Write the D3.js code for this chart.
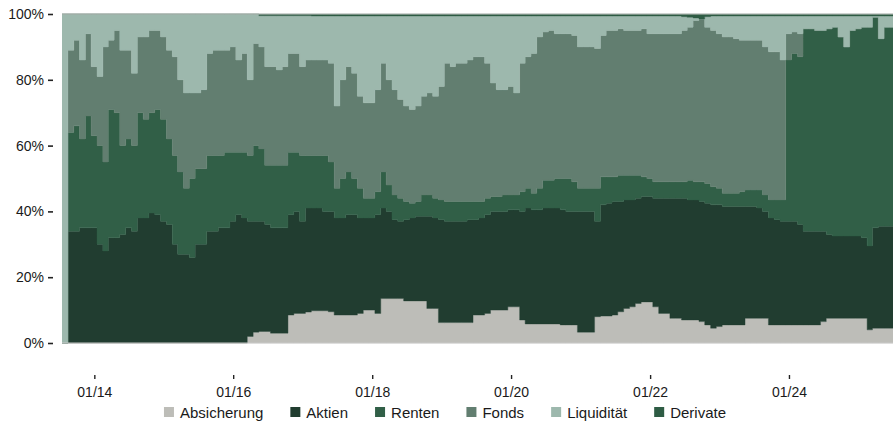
<!DOCTYPE html>
<html>
<head>
<meta charset="utf-8">
<script src="https://cdn.jsdelivr.net/npm/d3@7/dist/d3.min.js"></script>
<style>
  body { margin: 0; background: #fff; }
  svg { display: block; font-family: "Liberation Sans", Arial, Helvetica, sans-serif; }
</style>
</head>
<body>
<script>
// monthly portfolio shares in %, first value = 2013-07
var categories = ["Absicherung", "Aktien", "Renten", "Fonds", "Liquidität", "Derivate"];
var firstMonth = "2013-07-15";

var absicherung = [0,0,0,0,0,0,0,0,0,0, 0,0,0,0,0,0,0,0,0,0, 0,0,0,0,0,0,0,0,0,0,
  0,0,2,3.3,3.5,3.5,3,3,3,8.5, 9,9,9.4,9.8,9.8,9.8,9.5,8.5,8.5,8.5, 8.5,9,10,10,9,13.5,13.5,13.5,13.5,12.8,
  12.8,12.8,12.8,10.5,10.5,6.2,6.2,6.2,6.2,6.2, 6.2,8.5,8.5,9,10,10,10,11,11,7, 5.8,5.8,5.8,5.8,5.8,5.8,5.5,5.5,5.5,3.3,
  3.3,3.3,8,8.2,8.2,8.5,9.5,10.5,11,12, 12.5,12.5,11,9,9,7.5,7.5,7,7,7, 6.5,5.5,4.5,5,5.5,5.5,5.5,5.5,7.5,7.5,
  7.5,7.5,5.5,5.5,5.5,5.5,5.5,5.5,5.5,5.5, 5.5,6.5,7.5,7.5,7.5,7.5,7.5,7.5,7.5,4, 4.5,4.5,4.5,4.5];
var aktien = [0,34,34,35,35,35,30,28,32,32, 33,35,34,38,38,39.5,39,37,36,30, 27,27,26,30,30,34,34,35,35,37,
  39,38,35,33.7,33.5,32.5,32,32,32,30.5, 31,28,31.6,31.2,31.2,30.2,30.5,29.5,29.5,30.5, 30.5,29,28,28,30,27.5,26.5,24,23.5,24.7,
  25.2,25.7,25.7,28,27.5,31.3,30.8,30.8,30.8,30.8, 31.3,29,29.5,30,30,30,30,29.5,29.5,33, 35.2,34.7,34.7,35.2,35.2,35.2,35,34.5,34.5,36.7,
  36.7,36.7,29,33.8,34.3,34.5,33.5,33,32.5,32, 32,32,33,35,35,36.5,36.5,37,36.5,36.5, 36.5,37,37.5,37,36,36,36,36,34,34,
  33.5,32.5,32.5,32,31.5,31.5,31.5,30.5,28.5,28.5, 28.5,27.5,25.5,25,25,25,25,25,24.5,25.5, 30.5,31,31,31];
var renten = [0,30,32,27,34,28,30,27,39,38, 27,27,26,32,30,30.5,32,31,26,27, 25,20,24,23,23,23,23,22,23,21,
  19,20,20,23,22,18,19,19,19,19, 18,20,16,16,16,17,15,9,12,13, 11,9,6,6,7,11,8,7.5,7,5.5,
  4.5,4.5,6.5,6.5,6,6,6,6,6,6, 5.5,5.5,5,5,4.5,4.5,5,4.5,4.5,6, 6,5,6.5,8.5,8.5,9,9.5,10,9,7,
  7,7,10,8.5,8,7.5,8,7.5,7.5,7, 6,5.5,5,5,5,5,5,5,6,5.5, 6,6,5.5,5,4,4,4,4.5,5,5,
  5.5,5,5.5,6,6.5,49,51,51,61.5,61.5, 61,61,62.5,63.5,60.5,57.5,62.5,63,64,66.5, 64,57,60.5,60.5];
var fonds = [0,25,26,24,25,21,21,35,21,25, 29,27,22,23,25,25,24,25,27,30, 28,29,26,23,24,31,32,32,31,32,
  28,30,23,31,31,30,30,29,30,30, 30,27,29,29,29,29,30,25,30,32, 32,28,29,29,31,33,32,32,30,29,
  28.5,29,30,31,31,34.5,42,41,42,42, 43,44,44,41,34.5,32.5,32,33,31,39, 40,42.5,46,45,45.5,44,44,44,44.5,43,
  43,43,42.5,43,44.5,44.5,44.5,44,44,44, 45,44,45,45,45,45,45,46,46.5,49, 49.5,47.5,47.5,47,47.5,47.5,47,46,45.5,45.5,
  45.5,45,45,45,42.5,8,6.5,7,0,0, 0,0,0,0,0,0,0,0,0,0, 0,0,0,0];
var liquiditaet = [100,11,8,14,6,16,19,10,8,5, 11,11,18,7,7,5,5,7,11,13, 20,24,24,24,23,12,11,11,11,10,
  14,12,20,9,9.5,15.5,15.5,16.5,15.5,11.5, 11.5,15.5,13.5,13.4,13.4,13.4,14.4,27.4,19.4,15.4, 17.4,24.4,26.4,26.4,22.4,14.4,19.4,22.4,25.4,27.4,
  28.4,27.4,24.4,23.4,24.4,21.4,14.4,15.4,14.4,14.4, 13.4,12.4,12.4,14.4,20.4,22.4,22.4,21.4,23.4,14.4, 12.4,11.4,6.4,4.9,4.4,5.4,5.4,5.4,5.9,9.4,
  9.4,9.4,9.9,5.9,4.4,4.4,3.9,4.4,4.4,4.4, 3.9,5.4,5.4,5.4,5.4,5.4,5.4,4.2,3,0.8, 0,3.2,4.4,5.4,6.4,6.4,6.9,7.4,7.4,7.4,
  7.4,9.4,10.9,10.9,13.4,5.4,4.9,5.4,3.9,3.9, 4.4,4.4,3.9,3.4,6.4,9.4,4.4,3.9,3.4,3.4, 0.4,6.9,3.4,3.4];
var derivate = [0,0,0,0,0,0,0,0,0,0, 0,0,0,0,0,0,0,0,0,0, 0,0,0,0,0,0,0,0,0,0,
  0,0,0,0,0.5,0.5,0.5,0.5,0.5,0.5, 0.5,0.5,0.5,0.6,0.6,0.6,0.6,0.6,0.6,0.6, 0.6,0.6,0.6,0.6,0.6,0.6,0.6,0.6,0.6,0.6,
  0.6,0.6,0.6,0.6,0.6,0.6,0.6,0.6,0.6,0.6, 0.6,0.6,0.6,0.6,0.6,0.6,0.6,0.6,0.6,0.6, 0.6,0.6,0.6,0.6,0.6,0.6,0.6,0.6,0.6,0.6,
  0.6,0.6,0.6,0.6,0.6,0.6,0.6,0.6,0.6,0.6, 0.6,0.6,0.6,0.6,0.6,0.6,0.6,0.8,1,1.2, 1.5,0.8,0.6,0.6,0.6,0.6,0.6,0.6,0.6,0.6,
  0.6,0.6,0.6,0.6,0.6,0.6,0.6,0.6,0.6,0.6, 0.6,0.6,0.6,0.6,0.6,0.6,0.6,0.6,0.6,0.6, 0.6,0.6,0.6,0.6];

var yTicks = [0, 20, 40, 60, 80, 100];
var xTicks = ["2014-01-01", "2016-01-01", "2018-01-01", "2020-01-01", "2022-01-01", "2024-01-01"];
var colors = ["#bdbdb8", "#213d30", "#315f47", "#627e70", "#9db8ad", "#2e5c44"];

var width = 893, height = 423;
var plotLeft = 62, plotRight = 893, plotTop = 14, plotBottom = 343;

var series = [absicherung, aktien, renten, fonds, liquiditaet, derivate];
var start = new Date(firstMonth + "T00:00:00");
var rows = absicherung.map(function(v, i) {
  var row = { date: d3.timeMonth.offset(start, i) };
  categories.forEach(function(c, j) { row[c] = series[j][i]; });
  return row;
});
// hold the last month until the right edge (step chart)
var tail = Object.assign({}, rows[rows.length - 1]);
tail.date = d3.timeMonth.offset(tail.date, 1);
rows.push(tail);

var svg = d3.select("body").append("svg")
  .attr("width", width)
  .attr("height", height);

var x = d3.scaleTime()
  .domain([new Date("2013-07-15T00:00:00"), new Date("2025-07-01T00:00:00")])
  .range([plotLeft, plotRight]);
var y = d3.scaleLinear().domain([0, 100]).range([plotBottom, plotTop]);

var stacked = d3.stack().keys(categories)(rows);

svg.append("clipPath").attr("id", "plot")
  .append("rect").attr("x", plotLeft).attr("y", 0)
  .attr("width", plotRight - plotLeft).attr("height", height);

var area = d3.area()
  .curve(d3.curveStepAfter)
  .x(function(d) { return x(d.data.date); })
  .y0(function(d) { return y(d[0]); })
  .y1(function(d) { return y(d[1]); });

svg.append("g").attr("clip-path", "url(#plot)")
  .selectAll("path")
  .data(stacked)
  .enter().append("path")
  .attr("d", area)
  .attr("fill", function(d, i) { return colors[i]; })
  .attr("stroke", function(d, i) { return colors[i]; })
  .attr("stroke-width", 0.4);

// thin frame lines at 0% and 100%
svg.selectAll("line.edge")
  .data([0, 100])
  .enter().append("line")
  .attr("class", "edge")
  .attr("x1", plotLeft).attr("x2", plotRight)
  .attr("y1", function(d) { return y(d); })
  .attr("y2", function(d) { return y(d); })
  .attr("stroke", "#c9c9c9")
  .attr("stroke-width", 1);

var yAxis = svg.append("g")
  .attr("transform", "translate(53,0)")
  .call(d3.axisLeft(y).tickValues(yTicks).tickFormat(function(d) { return d + "%"; })
    .tickSize(5).tickPadding(4));
yAxis.select(".domain").remove();
yAxis.selectAll("line").attr("stroke", "#222").attr("stroke-width", 1.6);
yAxis.selectAll("text").attr("font-size", 14).attr("fill", "#1a1a1a")
  .style("font-family", "'Liberation Sans', Arial, sans-serif");

var xAxis = svg.append("g")
  .attr("transform", "translate(0,375)")
  .call(d3.axisBottom(x)
    .tickValues(xTicks.map(function(s) { return new Date(s + "T00:00:00"); }))
    .tickFormat(d3.timeFormat("%m/%y"))
    .tickSize(4).tickPadding(8));
xAxis.select(".domain").remove();
xAxis.selectAll("line").attr("stroke", "#222").attr("stroke-width", 1.4);
xAxis.selectAll("text").attr("font-size", 14).attr("fill", "#1a1a1a")
  .style("font-family", "'Liberation Sans', Arial, sans-serif");

// legend, centred under the plot
var legend = svg.append("g");
var items = legend.selectAll("g")
  .data(categories)
  .enter().append("g");
items.append("rect")
  .attr("width", 10).attr("height", 10)
  .attr("y", 407)
  .attr("fill", function(d, i) { return colors[i]; });
items.append("text")
  .attr("x", 16).attr("y", 412)
  .attr("dominant-baseline", "central")
  .attr("font-size", 15)
  .attr("fill", "#1a1a1a")
  .text(function(d) { return d; });

var pos = 0;
items.each(function() {
  var g = d3.select(this);
  g.attr("transform", "translate(" + pos + ",0)");
  pos += 16 + g.select("text").node().getComputedTextLength() + 27;
});
pos -= 27;
legend.attr("transform", "translate(" + (445 - pos / 2) + ",0)");
</script>
</body>
</html>
